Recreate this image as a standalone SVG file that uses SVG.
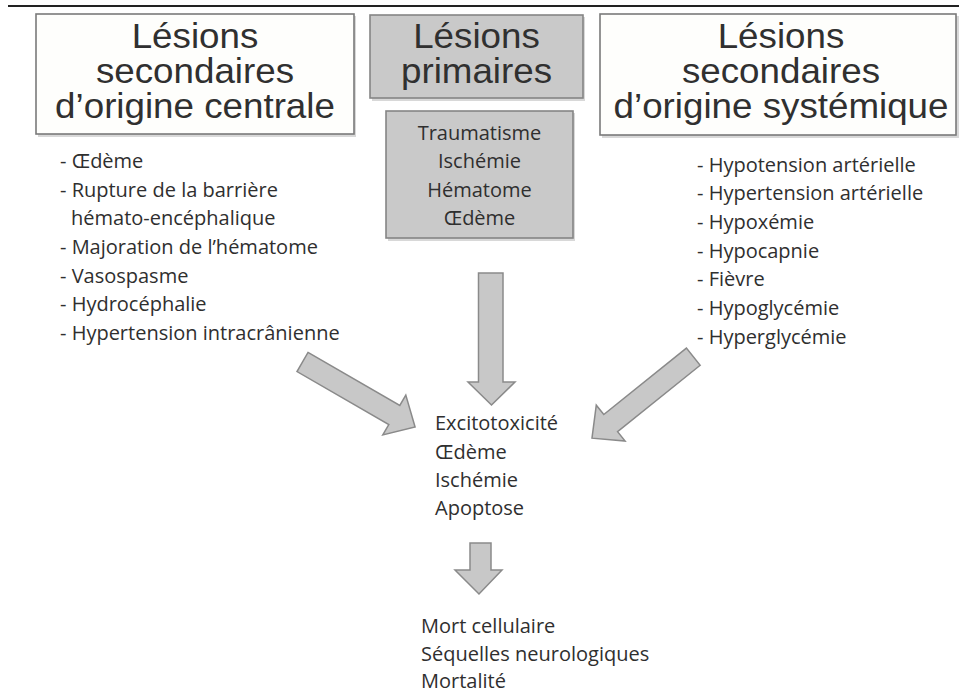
<svg xmlns="http://www.w3.org/2000/svg" width="959" height="695" viewBox="0 0 959 695">
<defs>
<style>
.title{font-family:"Liberation Sans",Arial,sans-serif;font-size:35px;fill:#303030;text-anchor:middle}
.body{font-family:"Open Sans","DejaVu Sans",sans-serif;font-size:20px;fill:#2f2f2f}
.mid{text-anchor:middle}
.wbox{fill:#fefefc;stroke:#7a7a7a;stroke-width:1.6}
.gbox{fill:#c9c9c9;stroke:#858585;stroke-width:1.6}
.shadow{fill:#d8d8d8}
.arrow{fill:#c8c8c8;stroke:#8a8a8a;stroke-width:1.5;stroke-linejoin:miter}
</style>
</defs>
<rect width="959" height="695" fill="#ffffff"/>
<line x1="8" y1="6" x2="959" y2="6" stroke="#222" stroke-width="2"/>

<g id="node-central">
<rect class="shadow" x="38" y="16" width="318" height="121"/>
<rect class="wbox" x="36" y="14" width="318" height="120"/>
<text class="title" transform="translate(195,0) scale(1.05,1)"><tspan x="0" y="48">Lésions</tspan><tspan x="0" y="83">secondaires</tspan><tspan x="0" y="118">d’origine centrale</tspan></text>
</g>

<g id="node-primaires">
<rect class="shadow" x="372" y="17" width="213" height="84"/>
<rect class="gbox" x="370" y="15" width="213" height="83"/>
<text class="title" transform="translate(476.5,0) scale(1.05,1)"><tspan x="0" y="48">Lésions</tspan><tspan x="0" y="83">primaires</tspan></text>
</g>

<g id="node-primaires-list">
<rect class="shadow" x="388" y="113" width="187" height="128"/>
<rect class="gbox" x="386" y="111" width="187" height="127"/>
<text class="body mid"><tspan x="479.5" y="140">Traumatisme</tspan><tspan x="479.5" y="168">Ischémie</tspan><tspan x="479.5" y="197">Hématome</tspan><tspan x="479.5" y="225">Œdème</tspan></text>
</g>

<g id="node-systemique">
<rect class="shadow" x="602" y="16" width="357" height="122"/>
<rect class="wbox" x="600" y="14" width="356" height="121"/>
<text class="title" transform="translate(781,0) scale(1.05,1)"><tspan x="0" y="48">Lésions</tspan><tspan x="0" y="83">secondaires</tspan><tspan x="0" y="118">d’origine systémique</tspan></text>
</g>

<g id="node-central-list">
<text class="body"><tspan x="60" y="168">- Œdème</tspan><tspan x="60" y="197">- Rupture de la barrière</tspan><tspan x="71" y="225">hémato-encéphalique</tspan><tspan x="60" y="254">- Majoration de l’hématome</tspan><tspan x="60" y="283">- Vasospasme</tspan><tspan x="60" y="311">- Hydrocéphalie</tspan><tspan x="60" y="340">- Hypertension intracrânienne</tspan></text>
</g>

<g id="node-systemique-list">
<text class="body"><tspan x="697" y="172">- Hypotension artérielle</tspan><tspan x="697" y="200">- Hypertension artérielle</tspan><tspan x="697" y="229">- Hypoxémie</tspan><tspan x="697" y="258">- Hypocapnie</tspan><tspan x="697" y="286">- Fièvre</tspan><tspan x="697" y="315">- Hypoglycémie</tspan><tspan x="697" y="344">- Hyperglycémie</tspan></text>
</g>

<g id="node-mecanismes">
<text class="body"><tspan x="435" y="430">Excitotoxicité</tspan><tspan x="435" y="459">Œdème</tspan><tspan x="435" y="487">Ischémie</tspan><tspan x="435" y="515">Apoptose</tspan></text>
</g>

<g id="node-consequences">
<text class="body"><tspan x="421" y="633">Mort cellulaire</tspan><tspan x="421" y="661">Séquelles neurologiques</tspan><tspan x="421" y="688">Mortalité</tspan></text>
</g>

<g id="connectors">
<polygon class="arrow" transform="translate(302.5,362) rotate(30)" points="0,-11 106,-11 106,-23 130,0 106,23 106,11 0,11"/>
<polygon class="arrow" transform="translate(693.3,356.7) rotate(141.2)" points="0,-11 106,-11 106,-23 130,0 106,23 106,11 0,11"/>
<polygon class="arrow" points="478.5,273 503,273 503,382 515,382 491.5,405 468,382 478.5,382"/>
<polygon class="arrow" points="470,543 491,543 491,570 502,570 479,594 455,570 470,570"/>
</g>
</svg>
